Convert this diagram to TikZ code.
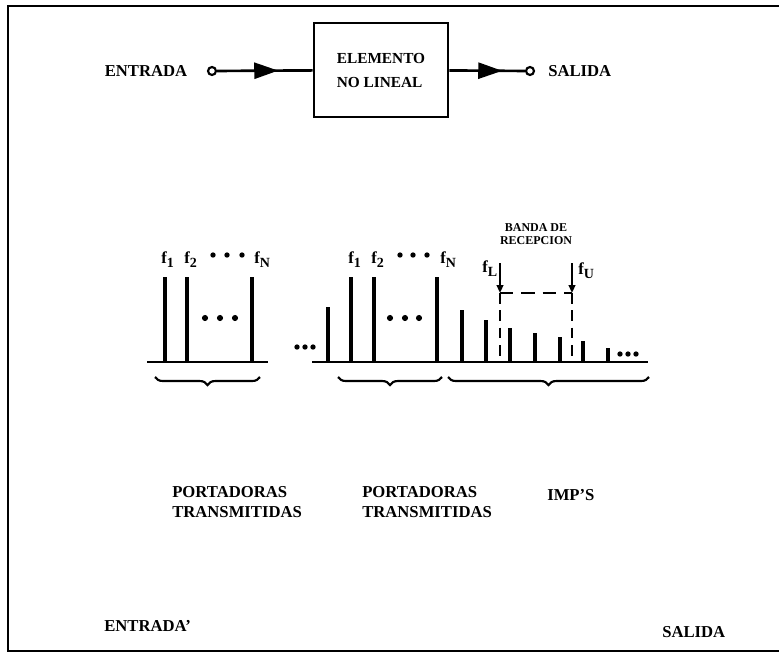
\documentclass[tikz,border=0pt]{standalone}
\usepackage{fontspec}
\setmainfont{Liberation Serif}
\usetikzlibrary{arrows.meta,positioning,decorations.markings,decorations.pathreplacing}
\newcommand{\subf}[1]{f\raisebox{-3.5pt}{\fontsize{10.5}{10.5}\selectfont #1}}
\tikzset{
  etiqueta/.style={font=\fontsize{12.5}{14.5}\selectfont\bfseries, inner sep=0pt, align=left},
  bloque/.style={rectangle, draw, line width=2pt, minimum width=100.5pt,
                 minimum height=70.5pt, align=left, font=\fontsize{11.5}{18}\selectfont\bfseries},
  borne/.style={circle, draw, line width=1.6pt, fill=white, inner sep=0pt, minimum size=6pt},
  flecha/.style={line width=2pt, postaction={decorate},
                 decoration={markings, mark=at position #1 with {\arrow{Triangle[length=18pt,width=12pt]}}}},
  raya/.style={line width=3.2pt},
  base/.style={line width=2.2pt},
  llave/.style={line width=1.6pt, decorate, decoration={brace, mirror, amplitude=6pt}},
  banda/.style={line width=1.8pt, dash pattern=on 8pt off 5pt},
}
\begin{document}
\begin{tikzpicture}[x=0.75pt, y=-0.75pt]
  \useasboundingbox (0,0) rectangle (779,654);
  \draw[line width=1.5pt] (779,6) -- (8,6) -- (8,651) -- (779,651);

  \node[etiqueta] (entrada) at (146,71) {ENTRADA};
  \node[borne] (ein) at (212,71) {};
  \node[bloque] (nl) at (381,70) {ELEMENTO\\NO LINEAL};
  \node[borne] (sout) at (530,71) {};
  \node[etiqueta, anchor=west] (salida) at (548,71) {SALIDA};
  \draw[flecha=0.64] (ein) -- (nl);
  \draw[flecha=0.70] (nl) -- (sout);

  \draw[base] (147,362) -- (268,362);
  \foreach \x in {165,187,252} \draw[raya] (\x,362) -- (\x,277);
  \foreach \x in {205,220,235} \fill (\x,318) circle (2.3pt);
  \node[etiqueta, anchor=base west] (fa1) at (161,263) {\subf{1}};
  \node[etiqueta, anchor=base west] (fa2) at (184,263) {\subf{2}};
  \node[etiqueta, anchor=base west] (faN) at (254,263) {\subf{N}};
  \foreach \x in {213,227,242} \fill (\x,255) circle (2pt);
  \draw[llave] (155,377) -- (260,377);

  \foreach \x in {297,305,313} \fill (\x,347) circle (2pt);

  \draw[base] (312,362) -- (648,362);
  \draw[raya] (328,362) -- (328,307);
  \foreach \x in {351,374,437} \draw[raya] (\x,362) -- (\x,277);
  \foreach \x/\t in {462/310,486/320,510/328,535/333,560/337,583/341,608/348}
    \draw[raya] (\x,362) -- (\x,\t);
  \foreach \x in {390,405,419} \fill (\x,318) circle (2.3pt);
  \foreach \x in {620,628,636} \fill (\x,354) circle (2pt);
  \node[etiqueta, anchor=base west] (fb1) at (348,263) {\subf{1}};
  \node[etiqueta, anchor=base west] (fb2) at (371,263) {\subf{2}};
  \node[etiqueta, anchor=base west] (fbN) at (440,263) {\subf{N}};
  \foreach \x in {400,413,427} \fill (\x,255) circle (2pt);
  \draw[llave] (338,377) -- (442,377);
  \draw[llave] (448,377) -- (649,377);

  \node[font=\fontsize{9}{10}\selectfont\bfseries, inner sep=0pt, align=center] (recep) at (536,234) {BANDA DE\\RECEPCION};
  \node[etiqueta, anchor=base west] (fL) at (482,272) {\subf{L}};
  \node[etiqueta, anchor=base west] (fU) at (578,274) {\subf{U}};
  \coordinate (lsup) at (500,263);
  \coordinate (lmed) at (500,293);
  \coordinate (usup) at (572,263);
  \coordinate (umed) at (572,293);
  \draw[line width=1.8pt, -{Triangle[length=6pt,width=5pt]}] (lsup) -- (lmed);
  \draw[line width=1.8pt, -{Triangle[length=6pt,width=5pt]}] (usup) -- (umed);
  \draw[banda] (lmed) -- (500,362);
  \draw[banda] (umed) -- (572,362);
  \draw[banda, dash pattern=on 10pt off 6pt] (lmed) -- (umed);

  \node[etiqueta, anchor=west] (pt1) at (172,502) {PORTADORAS\\TRANSMITIDAS};
  \node[etiqueta, anchor=west] (pt2) at (362,502) {PORTADORAS\\TRANSMITIDAS};
  \node[etiqueta, anchor=west] (imps) at (547,495) {IMP'S};

  \node[etiqueta, anchor=west] (entb) at (104,626) {ENTRADA'};
  \node[etiqueta, anchor=west] (salb) at (662,632) {SALIDA};
\end{tikzpicture}
\end{document}
